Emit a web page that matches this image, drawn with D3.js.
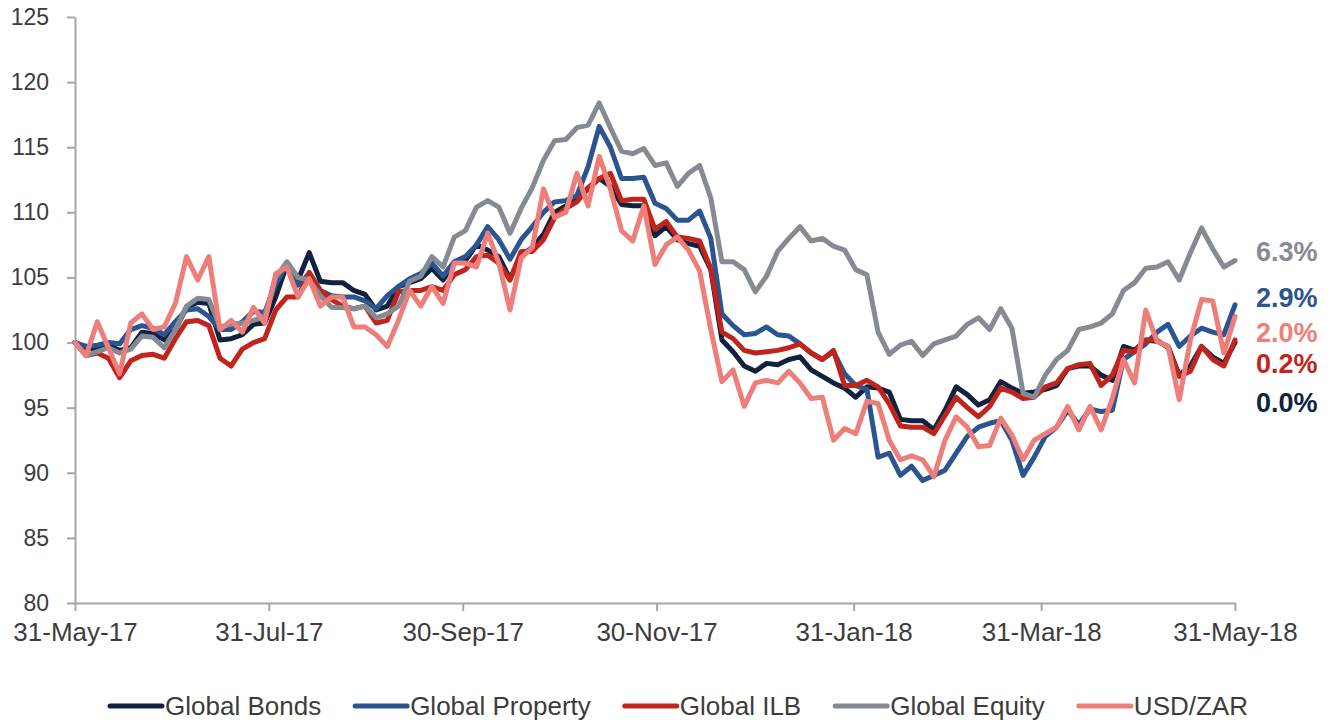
<!DOCTYPE html>
<html>
<head>
<meta charset="utf-8">
<script src="https://cdn.jsdelivr.net/npm/d3@7"></script>
<style>
  body { margin: 0; background: #fff; }
  svg { display: block; font-family: "Liberation Sans", Arial, sans-serif; }
</style>
</head>
<body>
<script>
// rebased to 100 on 31-May-17, ~2 readings a week up to 31-May-18
var bonds = [100.0,99.6,99.5,99.8,99.4,99.6,100.8,100.7,100.2,101.0,
  102.7,103.1,103.0,100.2,100.3,100.6,101.4,101.5,103.5,106.0,
  104.8,106.9,104.7,104.6,104.6,104.0,103.7,102.5,102.8,104.3,
  104.6,104.9,105.7,104.8,106.1,106.3,107.5,107.1,106.6,104.9,
  106.7,107.3,108.3,110.0,110.5,111.0,111.8,112.6,112.0,110.6,
  110.5,110.5,108.2,108.9,107.9,107.6,107.4,105.6,100.2,99.3,
  98.2,97.8,98.4,98.3,98.7,98.9,97.9,97.4,96.9,96.5,
  95.8,96.6,96.5,96.2,94.1,94.0,94.0,93.3,94.8,96.6,
  96.0,95.2,95.6,97.0,96.5,96.1,96.2,96.4,96.7,98.0,
  98.2,98.2,97.5,97.1,99.7,99.4,100.2,100.1,99.7,97.5,
  98.2,99.7,98.9,98.4,100.0];

var property = [100.0,99.7,99.8,100.0,99.9,101.0,101.3,101.1,100.6,101.6,
  102.5,102.6,102.0,101.0,101.0,101.6,102.4,102.3,104.5,106.0,
  104.4,105.3,104.0,103.6,103.5,103.5,103.2,102.6,103.6,104.3,
  104.9,105.3,106.1,105.1,106.2,106.6,107.5,108.9,107.9,106.4,
  107.9,108.9,110.0,110.8,110.9,111.3,113.5,116.6,115.0,112.6,
  112.6,112.7,110.7,110.3,109.4,109.4,110.1,108.0,102.2,101.3,
  100.6,100.7,101.2,100.6,100.5,99.9,99.2,98.7,99.3,97.6,
  96.7,96.4,91.2,91.5,89.8,90.5,89.4,89.8,90.2,91.5,
  92.8,93.5,93.8,94.0,92.5,89.8,91.2,92.8,93.5,94.8,
  93.7,94.9,94.7,94.8,98.7,99.3,99.9,100.8,101.4,99.7,
  100.5,101.1,100.8,100.6,102.9];

var ilb = [100.0,99.0,99.2,98.8,97.3,98.6,99.0,99.1,98.8,100.3,
  101.6,101.7,101.3,98.8,98.2,99.5,100.0,100.3,102.5,103.5,
  103.5,105.4,104.0,103.3,102.8,102.6,102.8,101.5,101.7,103.9,
  104.0,104.0,104.3,104.0,105.2,105.6,106.6,106.7,106.1,104.8,
  107.0,107.0,107.9,109.6,110.3,110.8,111.9,112.6,113.0,110.9,
  111.0,111.0,108.7,109.3,108.1,108.0,107.8,105.7,100.8,100.3,
  99.4,99.2,99.3,99.4,99.6,99.9,99.2,98.7,99.4,96.7,
  96.7,97.1,96.6,95.3,93.6,93.5,93.5,93.0,94.4,95.8,
  95.0,94.3,95.1,96.5,96.2,95.7,95.8,96.6,96.9,98.0,
  98.3,98.4,96.7,97.5,99.4,99.3,100.2,100.2,99.6,97.4,
  97.8,99.7,98.7,98.2,100.2];

var equity = [100.0,99.0,99.3,99.6,99.2,99.5,100.5,100.4,99.6,101.0,
  102.8,103.4,103.3,101.2,101.4,101.5,101.7,102.0,105.0,106.2,
  105.0,104.8,103.6,102.7,102.7,102.6,102.8,101.9,102.2,102.8,
  104.7,105.1,106.6,105.8,108.1,108.6,110.4,110.9,110.4,108.4,
  110.3,111.9,114.0,115.5,115.6,116.5,116.7,118.4,116.5,114.7,
  114.5,114.9,113.6,113.8,112.0,113.0,113.6,111.1,106.2,106.2,
  105.6,103.9,105.1,107.0,108.0,108.9,107.8,108.0,107.4,107.1,
  105.6,105.2,100.8,99.1,99.8,100.1,99.0,99.9,100.2,100.5,
  101.4,101.9,101.0,102.6,101.1,96.1,95.8,97.5,98.7,99.4,
  101.0,101.2,101.5,102.2,104.0,104.6,105.7,105.8,106.2,104.8,
  106.9,108.8,107.2,105.8,106.3];

var usdzar = [100.0,99.0,101.6,99.6,97.6,101.5,102.2,101.0,101.2,103.0,
  106.6,104.8,106.6,101.0,101.7,100.8,102.7,101.5,105.3,105.8,
  103.5,104.9,102.8,103.5,103.5,101.2,101.2,100.6,99.7,101.7,
  104.0,102.8,104.3,103.0,106.1,106.1,105.8,108.4,106.1,102.5,
  106.5,107.3,111.8,109.6,110.0,113.0,110.5,114.3,111.8,108.6,
  107.8,110.5,106.0,107.5,108.1,107.1,105.5,101.0,97.0,97.9,
  95.1,96.9,97.1,96.9,97.8,96.9,95.7,95.8,92.5,93.4,
  93.0,95.5,95.3,92.5,91.0,91.3,91.0,89.7,92.5,94.3,
  93.5,92.0,92.1,94.2,92.9,91.0,92.5,93.0,93.5,95.1,
  93.3,95.1,93.3,95.7,98.7,96.9,102.5,100.1,99.7,95.6,
  100.2,103.3,103.2,99.2,102.0];

var seriesNames = ["Global Bonds", "Global Property", "Global ILB", "Global Equity", "USD/ZAR"];
var seriesValues = [bonds, property, ilb, equity, usdzar];
var colors = ["#10223f", "#2a5590", "#c1231d", "#868a93", "#ee7e79"];
// where the end-of-period % labels sit (in index units)
var labelAt = [95.4, 103.5, 98.4, 107.0, 100.8];

var yTicks = [80, 85, 90, 95, 100, 105, 110, 115, 120, 125];
var xTickDates = ["2017-05-31", "2017-07-31", "2017-09-30", "2017-11-30", "2018-01-31", "2018-03-31", "2018-05-31"];
var xTickLabels = ["31-May-17", "31-Jul-17", "30-Sep-17", "30-Nov-17", "31-Jan-18", "31-Mar-18", "31-May-18"];

var parse = d3.utcParse("%Y-%m-%d");
var start = parse("2017-05-31"), end = parse("2018-05-31");
var n = bonds.length;
var dates = d3.range(n).map(i => new Date(+start + (end - start) * i / (n - 1)));

var svg = d3.select("body").append("svg")
  .attr("width", 1333)
  .attr("height", 720);

var x = d3.scaleUtc().domain([start, end]).range([75, 1235]);
var y = d3.scaleLinear().domain([80, 125]).range([603, 17]);

var axisColor = "#a6a6a6";
var textColor = "#3c3c3c";

// y axis
var gy = svg.append("g")
  .attr("transform", "translate(75,0)")
  .call(d3.axisLeft(y).tickValues(yTicks).tickSize(8).tickSizeOuter(0).tickPadding(18));
// x axis
var gx = svg.append("g")
  .attr("transform", "translate(0,603)")
  .call(d3.axisBottom(x).tickValues(xTickDates.map(parse)).tickSize(8).tickSizeOuter(0).tickPadding(12)
    .tickFormat((d, i) => xTickLabels[i]));

[gx, gy].forEach(g => {
  g.select(".domain").attr("stroke", axisColor).attr("stroke-width", 2);
  g.selectAll(".tick line").attr("stroke", axisColor).attr("stroke-width", 2);
  g.selectAll(".tick text").attr("fill", textColor).attr("font-size", 23)
    .attr("font-family", "'Liberation Sans', Arial, sans-serif");
});
gx.selectAll(".tick text").attr("font-size", 26);

// lines, drawn in legend order
var line = d3.line()
  .x((d, i) => x(dates[i]))
  .y(d => y(d));

seriesValues.forEach((vals, s) => {
  svg.append("path")
    .attr("d", line(vals))
    .attr("fill", "none")
    .attr("stroke", colors[s])
    .attr("stroke-width", 5)
    .attr("stroke-linejoin", "round")
    .attr("stroke-linecap", "round");
});

// end labels
seriesValues.forEach((vals, s) => {
  var last = vals[vals.length - 1];
  svg.append("text")
    .attr("x", 1256)
    .attr("y", y(labelAt[s]))
    .attr("dy", "0.36em")
    .attr("font-size", 27)
    .attr("font-weight", "bold")
    .attr("fill", colors[s])
    .text(d3.format(".1f")(last - 100) + "%");
});

// legend
var lg = svg.append("g");
var cursor = 0;
seriesNames.forEach((name, s) => {
  var item = lg.append("g").attr("transform", `translate(${cursor},0)`);
  item.append("line")
    .attr("x1", 2).attr("x2", 54)
    .attr("y1", 0).attr("y2", 0)
    .attr("stroke", colors[s])
    .attr("stroke-width", 5)
    .attr("stroke-linecap", "round");
  var t = item.append("text")
    .attr("x", 57)
    .attr("dy", "0.36em")
    .attr("font-size", 26)
    .attr("fill", textColor)
    .text(name);
  cursor += 57 + t.node().getComputedTextLength() + 32;
});
cursor -= 32;
lg.attr("transform", `translate(${(101 + 1255) / 2 - cursor / 2},706)`);
</script>
</body>
</html>
